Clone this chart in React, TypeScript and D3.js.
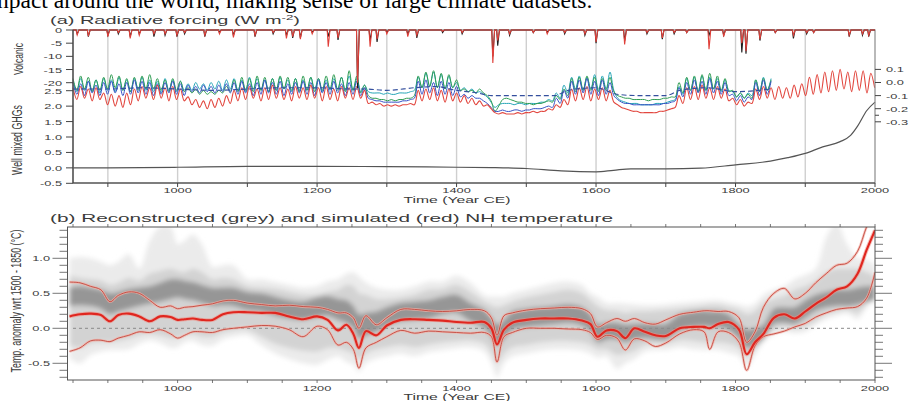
import React from 'react';
import * as d3 from 'd3';

// ---------- (a) radiative forcing ----------
// volcanic events (year) and peak forcing, W m-2, for two reconstructions
const volcYears = [856, 872, 900, 915, 932, 945, 966, 982, 999, 1010, 1039, 1060, 1080, 1111, 1137, 1156, 1165, 1176, 1193, 1216, 1230, 1258, 1276, 1286, 1300, 1330, 1343, 1380, 1408, 1452, 1459, 1476, 1510, 1530, 1555, 1584, 1600, 1641, 1673, 1695, 1712, 1730, 1762, 1783, 1809, 1815, 1835, 1857, 1883, 1902, 1912, 1963, 1982, 1991];
const volcBlack = [-1.5, -2.5, -2, -1.5, -2.5, -1.5, -2.5, -2, -2.5, -1.5, -2.5, -1, -2, -2.5, -1.5, -2, -3, -3, -1, -2.5, -3.8, -22, -4, -4.5, -1, -1.5, -3, -1, -1.5, -10, -6, -2, -1, -1, -1.5, -2, -5, -4, -1.5, -3.5, -1.5, -1, -2, -2, -8.5, -9, -4, -1, -3.2, -1.5, -1, -2.5, -2, -2.5];
const volcRed = [-1.9, -2.3, -2.5, -1, -3.2, -2, -1.5, -1.5, -2, -1, -2, -1.5, -2.8, -2, -1, -3.2, -2.5, -3.5, -1.5, -6.3, -3, -20, -6.3, -3.5, -1.5, -2.5, -2, -0.5, -1, -12.5, -4, -1.5, -1, -1.5, -1, -1.5, -4.5, -5.5, -1, -3, -1, -1, -7.3, -2.5, -5, -8, -3.5, -1, -2, -1, -1, -2, -1.5, -2];

// well mixed GHG forcing, W m-2
const ghgYears = [850, 900, 1000, 1100, 1200, 1300, 1400, 1450, 1500, 1550, 1600, 1625, 1650, 1700, 1750, 1800, 1850, 1875, 1900, 1925, 1950, 1965, 1975, 1988, 2000];
const ghgValues = [0.0, 0.0, 0.02, 0.05, 0.05, 0.04, 0.02, 0.01, -0.02, -0.1, -0.13, -0.08, -0.03, -0.03, -0.01, 0.1, 0.22, 0.33, 0.47, 0.68, 0.85, 1.05, 1.35, 1.85, 2.13];

// solar forcing, 0.01 W m-2, one value per half solar cycle (5.5 yr) from 850
const solarRed = [
  -4, -13, -3, -12, -5, -14, -4, -13, -8, -17, -9, -18, -10, -19, -8, -17, -5, -14, -3, -12, -4, -13, -2, -12, -4, -14, -3, -13, -5, -14,
  -11, -17, -13, -19, -14, -20, -13, -19, -12, -18, -10, -16,
  -6, -14, -4, -13, -3, -12, -5, -14, -4, -13, -2, -12, -4, -13, -5, -14, -3, -12, -4, -13, -2, -12, -4, -14, -3, -13, -5, -14, -3, -12, -4, -13, -3, -12, -6,
  -16, -15, -17, -16, -18, -17, -18, -17, -18, -17, -17, -16, -17,
  -6, -14, -5, -13, -4, -14, -6, -15, -5, -14, -8,
  -15, -10, -16, -12, -17, -14, -18, -17, -20,
  -23, -24, -23, -24, -24, -24, -23, -24, -23, -23, -22, -23, -22, -22,
  -20, -21, -17, -19, -13, -17,
  -5, -14, -4, -13, -3, -14, -5, -13, -4, -14, -6, -15,
  -17, -19, -20, -21, -22, -22, -23, -23, -23, -23, -23, -22, -22, -21, -20, -19,
  -10, -16, -4, -13, -3, -13, -2, -12, -4, -13, -3, -12, -5, -14,
  -12, -17, -13, -18, -15,
  -16, -5, -13, -3, -12, -4, -13, -3, -12, -4, -12, -2, -11, -1,
  -10, 4, -9, 6, -8, 8, -7, 9, -6, 10, -5, 8, -7, 9, -6, 9, -8, 7, -4,
];
const solarGreen = [
  3, -6, 5, -5, 4, -7, 2, -6, 4, -5, 6, -4, 5, -6, 3, -7, 4, -6, 5, -5, 6, -5, 3, -6, 2, -7, 3, -6, 1, -7,
  -4, -8, -5, -9, -6, -9, -7, -9, -6, -8, -3, -7,
  2, -7, 4, -6, 3, -7, 5, -6, 4, -7, 3, -6, 5, -5, 4, -6, 3, -7, 5, -6, 4, -7, 3, -6, 5, -5, 6, -6, 4, -7, 9, -6, 5, -8, -2,
  -10, -12, -12, -13, -13, -14, -13, -14, -13, -13, -12, -12, -10,
  5, -4, 8, -3, 9, -4, 7, -5, 6, -4, 2,
  -6, -5, -7, -6, -8, -5, -8, -10, -14,
  -22, -18, -13, -12, -13, -14, -15, -15, -16, -16, -17, -16, -16, -15,
  -14, -15, -10, -13, -5, -10,
  3, -7, 4, -6, 5, -6, 4, -7, 3, -6, 4, -7,
  -10, -11, -12, -12, -13, -13, -13, -13, -14, -13, -13, -13, -12, -12, -11, -11,
  0, -8, 4, -6, 5, -7, 6, -6, 7, -5, 5, -6, 3, -7,
  -6, -11, -8, -12, -9,
  -12, 2, -7, 3, -6, 2,
];
const solarBlue = [
  0, -9, -1, -10, 1, -8, -2, -10, 0, -9, 1, -8, -1, -10, 0, -9, 2, -8, 1, -9, 0, -10, -1, -9, 0, -8, 1, -9, -1, -10,
  -2, -7, -3, -8, -2, -7, -3, -8, -2, -7, -1, -8,
  0, -9, 1, -8, -1, -10, 0, -9, 2, -8, 0, -9, 1, -10, -1, -9, 0, -8, 1, -9, 0, -10, 2, -8, 0, -9, 1, -8, -1, -10, 0, -9, 1, -10, -4,
  -12, -13, -14, -14, -15, -15, -15, -15, -15, -14, -14, -13, -12,
  1, -9, 2, -8, 0, -10, 1, -9, 0, -10, -3,
  -11, -9, -12, -10, -12, -12, -14, -16, -19,
  -22, -22, -21, -22, -22, -21, -21, -22, -21, -21, -20, -20, -20, -19,
  -18, -19, -12, -16, -6, -12,
  1, -9, 2, -8, 3, -9, 1, -10, 2, -9, 0, -10,
  -13, -15, -16, -16, -17, -17, -17, -17, -17, -17, -17, -17, -16, -16, -15, -14,
  -4, -11, 0, -9, 2, -8, 1, -9, 3, -8, 1, -9, 0, -10,
  -9, -14, -10, -15, -11,
  -13, 0, -10, 2, -9, 1,
];
const solarTeal = [
  2, -7, 3, -6, 1, -7, 2, -8, 3, -6, 2, -7, 4, -6, 2, -7, 3, -5, 4, -6, 2, -7, 1, -8, 3, -6, 2, -7, 1, -6,
  -1, -6, 0, -5, -1, -6, 0, -5, 1, -6, 2, -5,
  3, -6, 2, -7, 4, -5, 3, -6, 2, -7, 3, -6, 4, -5, 2, -7, 3, -6, 2, -6, 4, -5, 3, -7, 2, -6, 3, -5, 4, -6, 5, -6, 3, -7, -2,
  -7, -8, -8, -8, -9, -8, -9, -9, -8, -8, -8, -7, -6,
  4, -4, 7, -3, 8, -4, 6, -5, 5, -4, 0,
  -6, -4, -7, -5, -8, -7, -9, -11, -15,
  -19, -17, -16, -16, -16, -17, -16, -16, -17, -16, -16, -16, -15, -15,
  -13, -14, -8, -12, -2, -8,
  4, -5, 5, -6, 4, -5, 6, -6, 5, -5, 8, -6,
  -12, -14, -15, -16, -16, -16, -17, -17, -17, -17, -16, -16, -16, -15, -14, -13,
  -3, -9, 3, -6, 4, -7, 5, -6, 4, -5, 3, -7, 2, -6,
  -7, -11, -8, -12, -8,
  -10, 2, -7, 4, -6, 3,
];
// smoother dashed reconstruction, 0.01 W m-2
const dashedYears = [850, 900, 950, 1000, 1050, 1100, 1150, 1200, 1250, 1270, 1300, 1340, 1370, 1400, 1430, 1450, 1500, 1540, 1560, 1600, 1630, 1660, 1700, 1720, 1760, 1800, 1850];
const dashedValues = [-5, -5, -4, -5, -6, -5, -4, -4, -5, -5, -6, -4, -3, -6, -8, -10, -10, -10, -6, -4, -9, -10, -10, -6, -4, -7, -5];

const volcTicks = [0, -5, -10, -15, -20];
const ghgTicks = [2.5, 2.0, 1.5, 1.0, 0.5, 0.0, -0.5];
const solarTicks = [0.1, 0.0, -0.1, -0.2, -0.3];
const yearTicks = [1000, 1200, 1400, 1600, 1800, 2000];

// ---------- (b) NH temperature, degC wrt 1500-1850 ----------
const yearsB = [845, 860, 875, 890, 903, 915, 930, 945, 960, 975, 990, 1000, 1010, 1022, 1035, 1050, 1065, 1080, 1100, 1120, 1140, 1160, 1180, 1200, 1215, 1230, 1242, 1252, 1260, 1270, 1285, 1300, 1320, 1340, 1360, 1380, 1400, 1420, 1440, 1450, 1458, 1468, 1480, 1500, 1520, 1540, 1560, 1580, 1592, 1602, 1615, 1630, 1642, 1655, 1670, 1685, 1700, 1720, 1740, 1755, 1763, 1775, 1790, 1805, 1816, 1828, 1840, 1855, 1870, 1885, 1900, 1915, 1930, 1945, 1960, 1975, 1988, 2000];
const simMean = [0.17, 0.2, 0.21, 0.19, 0.1, 0.19, 0.21, 0.17, 0.1, 0.17, 0.16, 0.12, 0.13, 0.14, 0.12, 0.12, 0.2, 0.23, 0.23, 0.22, 0.22, 0.17, 0.13, 0.17, 0.12, -0.03, 0.05, -0.08, -0.28, -0.04, -0.1, 0.04, 0.12, 0.13, 0.12, 0.11, 0.09, 0.08, 0.09, 0.0, -0.23, -0.02, 0.08, 0.12, 0.14, 0.14, 0.14, 0.11, 0.06, -0.12, -0.03, -0.04, -0.14, 0.0, -0.05, -0.1, -0.11, 0.0, 0.02, 0.02, 0.0, 0.06, 0.09, -0.02, -0.37, -0.2, -0.08, 0.15, 0.2, 0.14, 0.24, 0.35, 0.44, 0.55, 0.6, 0.78, 1.12, 1.4];
const simHi = [0.66, 0.65, 0.6, 0.55, 0.38, 0.47, 0.52, 0.5, 0.4, 0.3, 0.32, 0.28, 0.3, 0.31, 0.33, 0.35, 0.39, 0.4, 0.36, 0.34, 0.32, 0.33, 0.31, 0.3, 0.27, 0.22, 0.22, 0.15, 0.0, 0.18, 0.05, 0.15, 0.27, 0.27, 0.25, 0.24, 0.25, 0.27, 0.25, 0.15, -0.1, 0.18, 0.22, 0.26, 0.28, 0.29, 0.3, 0.28, 0.21, 0.02, 0.08, 0.14, 0.1, 0.14, 0.08, 0.06, 0.12, 0.2, 0.23, 0.25, 0.25, 0.24, 0.24, 0.15, -0.2, -0.05, 0.3, 0.5, 0.57, 0.42, 0.5, 0.65, 0.78, 0.9, 0.93, 1.1, 1.45, 1.7];
const simLo = [-0.33, -0.28, -0.18, -0.17, -0.19, -0.14, -0.1, -0.05, -0.06, -0.02, -0.08, -0.14, -0.1, -0.05, -0.05, -0.06, -0.02, 0.0, 0.02, 0.04, 0.03, -0.02, -0.12, 0.03, -0.02, -0.24, -0.2, -0.3, -0.57, -0.28, -0.2, -0.12, -0.03, -0.07, -0.04, -0.05, -0.06, -0.07, -0.06, -0.12, -0.48, -0.12, -0.06, 0.0, 0.0, 0.0, -0.01, -0.02, -0.06, -0.16, -0.1, -0.14, -0.31, -0.15, -0.18, -0.26, -0.21, -0.08, -0.02, -0.05, -0.3, -0.05, -0.06, -0.2, -0.6, -0.25, -0.12, -0.08, -0.04, 0.02, 0.07, 0.16, 0.22, 0.27, 0.29, 0.31, 0.43, 0.8];
// reconstruction envelopes: outer (lightest), middle and dark core
const outerHi = [1.0, 1.02, 1.0, 0.95, 0.9, 0.95, 1.06, 0.85, 1.25, 1.45, 1.45, 1.2, 1.25, 1.34, 1.2, 0.88, 0.9, 0.9, 0.7, 0.7, 0.66, 0.62, 0.58, 0.6, 0.67, 0.7, 0.78, 0.8, 0.74, 0.65, 0.58, 0.55, 0.55, 0.6, 0.67, 0.67, 0.75, 0.65, 0.47, 0.45, 0.45, 0.45, 0.5, 0.55, 0.6, 0.65, 0.67, 0.62, 0.5, 0.45, 0.36, 0.36, 0.35, 0.34, 0.33, 0.33, 0.34, 0.36, 0.38, 0.39, 0.4, 0.4, 0.37, 0.34, 0.31, 0.35, 0.48, 0.55, 0.6, 0.7, 0.76, 0.85, 1.3, 1.5, 1.2, 1.0, 0.98, 0.9];
const outerLo = [-0.43, -0.5, -0.38, -0.33, -0.31, -0.31, -0.3, -0.22, -0.17, -0.21, -0.28, -0.27, -0.2, -0.18, -0.24, -0.25, -0.16, -0.12, -0.1, -0.24, -0.36, -0.44, -0.5, -0.52, -0.45, -0.4, -0.48, -0.52, -0.62, -0.5, -0.43, -0.4, -0.36, -0.4, -0.34, -0.31, -0.28, -0.27, -0.33, -0.5, -0.7, -0.5, -0.4, -0.36, -0.32, -0.3, -0.3, -0.32, -0.36, -0.42, -0.4, -0.58, -0.5, -0.44, -0.33, -0.31, -0.31, -0.27, -0.3, -0.31, -0.31, -0.31, -0.35, -0.4, -0.56, -0.38, -0.2, -0.08, -0.05, -0.07, -0.05, 0.05, 0.13, 0.18, 0.21, 0.13, 0.3, 0.4];
const midHi = [0.75, 0.72, 0.7, 0.68, 0.62, 0.65, 0.72, 0.68, 0.78, 0.82, 0.85, 0.82, 0.8, 0.85, 0.8, 0.7, 0.72, 0.7, 0.6, 0.58, 0.56, 0.52, 0.48, 0.48, 0.52, 0.55, 0.62, 0.6, 0.5, 0.48, 0.42, 0.42, 0.44, 0.48, 0.55, 0.56, 0.62, 0.52, 0.38, 0.33, 0.3, 0.33, 0.38, 0.44, 0.48, 0.52, 0.55, 0.5, 0.4, 0.32, 0.26, 0.25, 0.22, 0.24, 0.24, 0.25, 0.26, 0.28, 0.3, 0.32, 0.33, 0.33, 0.3, 0.26, 0.2, 0.24, 0.36, 0.42, 0.46, 0.55, 0.6, 0.68, 0.8, 0.85, 0.85, 0.85, 0.8, 0.75];
const midLo = [-0.25, -0.28, -0.22, -0.2, -0.2, -0.18, -0.15, -0.1, -0.08, -0.1, -0.14, -0.14, -0.1, -0.08, -0.12, -0.12, -0.06, -0.03, -0.02, -0.12, -0.22, -0.28, -0.32, -0.33, -0.28, -0.28, -0.32, -0.36, -0.45, -0.36, -0.3, -0.27, -0.24, -0.27, -0.23, -0.2, -0.18, -0.17, -0.22, -0.35, -0.5, -0.36, -0.27, -0.24, -0.2, -0.18, -0.18, -0.2, -0.24, -0.3, -0.3, -0.38, -0.36, -0.32, -0.24, -0.22, -0.22, -0.17, -0.18, -0.2, -0.21, -0.2, -0.22, -0.28, -0.42, -0.3, -0.15, -0.02, 0.02, 0.0, 0.03, 0.1, 0.2, 0.24, 0.27, 0.22, 0.35, 0.45];
const coreHi = [0.58, 0.6, 0.58, 0.55, 0.5, 0.52, 0.56, 0.58, 0.6, 0.65, 0.7, 0.7, 0.68, 0.66, 0.62, 0.58, 0.58, 0.58, 0.52, 0.5, 0.45, 0.4, 0.38, 0.44, 0.46, 0.42, 0.4, 0.32, 0.2, 0.22, 0.24, 0.3, 0.36, 0.38, 0.4, 0.45, 0.48, 0.36, 0.26, 0.15, 0.05, 0.12, 0.24, 0.28, 0.3, 0.32, 0.34, 0.3, 0.2, 0.06, 0.08, 0.08, 0.05, 0.06, 0.07, 0.06, 0.06, 0.2, 0.24, 0.25, 0.24, 0.24, 0.2, 0.05, -0.02, 0.0, 0.05, 0.28, 0.3, 0.3, 0.4, 0.48, 0.52, 0.55, 0.55, 0.58, 0.6, 0.6];
const coreLo = [0.32, 0.33, 0.32, 0.28, 0.2, 0.24, 0.28, 0.32, 0.35, 0.38, 0.42, 0.44, 0.42, 0.4, 0.36, 0.32, 0.33, 0.32, 0.26, 0.24, 0.18, 0.14, 0.12, 0.16, 0.18, 0.12, 0.08, 0.0, -0.15, -0.1, -0.05, 0.04, 0.1, 0.12, 0.14, 0.2, 0.22, 0.1, 0.0, -0.12, -0.25, -0.15, -0.02, 0.02, 0.04, 0.06, 0.08, 0.04, -0.05, -0.2, -0.16, -0.16, -0.2, -0.16, -0.14, -0.16, -0.16, -0.03, 0.02, 0.03, 0.02, 0.02, -0.02, -0.15, -0.28, -0.24, -0.15, 0.06, 0.08, 0.06, 0.15, 0.25, 0.3, 0.32, 0.32, 0.34, 0.38, 0.4];

const tempTicks = [1.0, 0.5, 0.0, -0.5];

// ---------- layout ----------
const A = { left: 73, right: 875, top: 30, bottom: 183 };
const B = { left: 67.5, right: 875, top: 227, bottom: 380 };
const SX = 1.6; // text in the figure is stretched horizontally
const FONT = 'Liberation Sans, Arial, sans-serif';
const INK = '#3a3a3a';

const xA = d3.scaleLinear().domain([850, 2000]).range([A.left, A.right]);
const yV = d3.scaleLinear().domain([0, -20]).range([30, 82.7]);
const yG = d3.scaleLinear().domain([-0.5, 2.5]).range([183.3, 90.7]);
const yS = d3.scaleLinear().domain([0.1, -0.3]).range([69.4, 121.8]);
const yB = d3.scaleLinear().domain([0, 1]).range([328.3, 258.3]);

const Label = ({ x, y, anchor = 'middle', size = 8, base = 'central', children }: any) => (
  <text transform={`translate(${x},${y}) scale(${SX},1)`} textAnchor={anchor} dominantBaseline={base}
    fontSize={size} fontFamily={FONT} fill={INK}>{children}</text>
);

const VLabel = ({ x, y, size, len, children }: any) => (
  <text transform={`translate(${x},${y}) scale(${SX},1) rotate(-90)`} textAnchor="middle" dominantBaseline="central"
    fontSize={size} fontFamily={FONT} fill={INK} textLength={len} lengthAdjust="spacingAndGlyphs">{children}</text>
);

function volcPath(vals: number[]) {
  const pts: [number, number][] = [[850, 0]];
  volcYears.forEach((yr, i) => { pts.push([yr - 1.5, 0], [yr, vals[i]], [yr + 2.5, 0]); });
  pts.push([2000, 0]);
  return d3.line<[number, number]>().x(d => xA(d[0])).y(d => yV(d[1]))(pts) as string;
}

const solarPath = (vals: number[]) =>
  d3.line<number>().x((_, i) => xA(850 + 5.5 * i)).y(v => yS(v / 100))
    .curve(d3.curveCatmullRom.alpha(0.5))(vals) as string;

const bandPath = (lo: number[], hi: number[]) =>
  d3.area<number>().x(i => xA(yearsB[i])).y0(i => yB(lo[i])).y1(i => yB(hi[i]))
    .curve(d3.curveCatmullRom.alpha(0.5))(d3.range(yearsB.length)) as string;

const simPath = (vals: number[]) =>
  d3.line<number>().x((_, i) => xA(yearsB[i])).y(v => yB(v))
    .curve(d3.curveCatmullRom.alpha(0.5))(vals) as string;

export default function App() {
  const ghgPath = d3.line<number>().x((_, i) => xA(ghgYears[i])).y(v => yG(v)).curve(d3.curveMonotoneX)(ghgValues) as string;
  const dashedPath = d3.line<number>().x((_, i) => xA(dashedYears[i])).y(v => yS(v / 100)).curve(d3.curveMonotoneX)(dashedValues) as string;
  const grid = d3.range(900, 2000, 100);
  const minorB = d3.range(-7, 15).map(v => v / 10);
  const ticks50 = d3.range(850, 2001, 50);

  return (
    <svg width={910} height={401} style={{ position: 'absolute', left: 0, top: 0, background: '#fff' }}>
      <defs>
        <clipPath id="clipB"><rect x={B.left} y={B.top} width={B.right - B.left} height={B.bottom - B.top} /></clipPath>
        <filter id="soft" x="-5%" y="-20%" width="110%" height="140%"><feGaussianBlur stdDeviation="2.4" /></filter>
        <filter id="softA" x="-2%" y="-20%" width="104%" height="140%"><feGaussianBlur stdDeviation="0.45" /></filter>
      </defs>

      <text x={-3} y={7.5} fontFamily="Liberation Serif, Times New Roman, serif" fontSize={23.5} fill="#000">
        npact around the world, making sense of large climate datasets.
      </text>

      {/* ---------- panel (a) ---------- */}
      <text x={50} y={24} fontFamily={FONT} fontSize={10.5} fill={INK} textLength={250} lengthAdjust="spacingAndGlyphs">
        (a)  Radiative forcing (W m<tspan fontSize={7} dy={-4}>-2</tspan><tspan dy={4}>)</tspan>
      </text>

      {grid.map(g => (
        <line key={g} x1={xA(g)} x2={xA(g)} y1={A.top} y2={A.bottom} stroke="#cfcfcf" strokeWidth={1.4} />
      ))}

      <path d={ghgPath} fill="none" stroke="#555" strokeWidth={1.2} />

      <g filter="url(#softA)">
        <path d={solarPath(solarTeal)} fill="none" stroke="#25a4b6" strokeWidth={1} />
        <path d={solarPath(solarGreen)} fill="none" stroke="#2f9c52" strokeWidth={1} />
        <path d={solarPath(solarBlue)} fill="none" stroke="#3550c4" strokeWidth={1} />
        <path d={solarPath(solarRed)} fill="none" stroke="#e2473f" strokeWidth={1.1} />
        <path d={dashedPath} fill="none" stroke="#34509e" strokeWidth={1.1} strokeDasharray="5,3" />
      </g>

      <rect x={A.left} y={A.top} width={A.right - A.left} height={A.bottom - A.top} fill="none" stroke="#8a8a8a" strokeWidth={1.2} />
      <path d={volcPath(volcBlack)} fill="none" stroke="#1e1e1e" strokeWidth={1.1} />
      <path d={volcPath(volcRed)} fill="none" stroke="#e0403a" strokeWidth={1.1} />
      <line x1={A.left} x2={A.left} y1={A.top} y2={A.bottom} stroke="#444" strokeWidth={1.2} />
      <line x1={A.left} x2={A.right} y1={A.bottom} y2={A.bottom} stroke="#444" strokeWidth={1.2} />

      {volcTicks.map(v => (
        <g key={'v' + v}>
          <line x1={A.left - 7} x2={A.left} y1={yV(v)} y2={yV(v)} stroke="#444" />
          <Label x={62} y={yV(v)} anchor="end">{String(v)}</Label>
        </g>
      ))}
      {ghgTicks.map(v => (
        <g key={'g' + v}>
          <line x1={A.left - 7} x2={A.left} y1={yG(v)} y2={yG(v)} stroke="#444" />
          <Label x={62} y={yG(v)} anchor="end">{v.toFixed(1)}</Label>
        </g>
      ))}
      {solarTicks.map(v => (
        <g key={'s' + v}>
          <line x1={A.right} x2={A.right + 6} y1={yS(v)} y2={yS(v)} stroke="#444" />
          <Label x={886} y={yS(v)} anchor="start">{v.toFixed(1)}</Label>
        </g>
      ))}
      <line x1={A.right} x2={A.right + 4} y1={yS(-0.25)} y2={yS(-0.25)} stroke="#444" />
      {d3.range(900, 2001, 100).map(g => (
        <line key={'t' + g} x1={xA(g)} x2={xA(g)} y1={A.bottom} y2={A.bottom + 4} stroke="#444" />
      ))}
      {yearTicks.map(t => (
        <Label key={'ya' + t} x={xA(t)} y={193} base="auto">{String(t)}</Label>
      ))}
      <text x={457} y={203} textAnchor="middle" fontFamily={FONT} fontSize={9.5} fill={INK} textLength={107} lengthAdjust="spacingAndGlyphs">Time (Year CE)</text>
      <VLabel x={18} y={59} size={8.5} len={32}>Volcanic</VLabel>
      <VLabel x={17} y={140} size={8.8} len={70}>Well mixed GHGs</VLabel>

      {/* ---------- panel (b) ---------- */}
      <text x={50} y={222} fontFamily={FONT} fontSize={11.5} fill={INK} textLength={563} lengthAdjust="spacingAndGlyphs">
        (b)  Reconstructed (grey) and simulated (red) NH temperature
      </text>

      <g clipPath="url(#clipB)">
        <g filter="url(#soft)">
          <path d={bandPath(outerLo, outerHi)} fill="#ebebeb" />
          <path d={bandPath(midLo, midHi)} fill="#d0d0d0" opacity={0.9} />
          <path d={bandPath(coreLo, coreHi)} fill="#7c7c7c" opacity={0.7} />
        </g>
        <line x1={xA(850)} x2={B.right} y1={yB(0)} y2={yB(0)} stroke="#8a8a8a" strokeDasharray="3,3" />
        {[simLo, simHi].map((s, k) => (
          <g key={'sim' + k}>
            <path d={simPath(s)} fill="none" stroke="#f2b0a6" strokeWidth={2.6} opacity={0.7} />
            <path d={simPath(s)} fill="none" stroke="#c4463c" strokeWidth={0.9} />
          </g>
        ))}
        <path d={simPath(simMean)} fill="none" stroke="#f08c82" strokeWidth={4} opacity={0.55} />
        <path d={simPath(simMean)} fill="none" stroke="#e0261f" strokeWidth={2.1} />
      </g>

      <rect x={B.left} y={B.top} width={B.right - B.left} height={B.bottom - B.top} fill="none" stroke="#555" strokeWidth={1} />
      {minorB.map(v => {
        const major = Math.abs(v * 2 - Math.round(v * 2)) < 1e-6;
        return (
          <g key={'m' + v}>
            <line x1={B.left - (major ? 15 : 8)} x2={B.left} y1={yB(v)} y2={yB(v)} stroke="#555" strokeWidth={0.8} />
            <line x1={B.right} x2={B.right + (major ? 17 : 8)} y1={yB(v)} y2={yB(v)} stroke="#555" strokeWidth={0.8} />
          </g>
        );
      })}
      {tempTicks.map(v => (
        <Label key={'tb' + v} x={50} y={yB(v)} anchor="end">{v.toFixed(1)}</Label>
      ))}
      {ticks50.map(t => (
        <g key={'x50' + t}>
          <line x1={xA(t)} x2={xA(t)} y1={B.top - 3} y2={B.top} stroke="#555" strokeWidth={0.8} />
          <line x1={xA(t)} x2={xA(t)} y1={B.bottom} y2={B.bottom + 3} stroke="#555" strokeWidth={0.8} />
        </g>
      ))}
      {yearTicks.map(t => (
        <Label key={'yb' + t} x={xA(t)} y={391} base="auto">{String(t)}</Label>
      ))}
      <text x={457} y={400} textAnchor="middle" fontFamily={FONT} fontSize={9.5} fill={INK} textLength={107} lengthAdjust="spacingAndGlyphs">Time (Year CE)</text>
      <VLabel x={16} y={301} size={8.8} len={143}>Temp. anomaly wrt 1500 - 1850 (°C)</VLabel>
    </svg>
  );
}
